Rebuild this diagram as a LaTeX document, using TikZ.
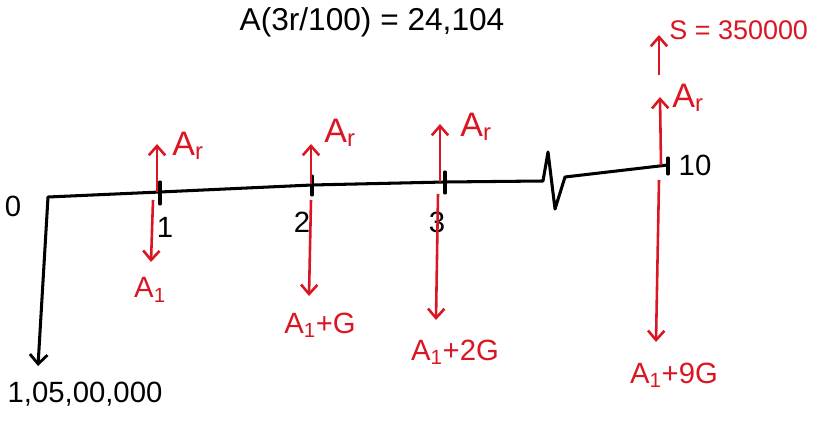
\documentclass[tikz,border=0pt]{standalone}
\usepackage{fontspec}
\setmainfont{Liberation Sans}
\usetikzlibrary{arrows.meta}
\definecolor{hred}{RGB}{218,22,34}
\tikzset{
  ax/.style={line width=2.6pt, black, line cap=round, line join=round},
  rup/.style={line width=2.2pt, hred, -{Straight Barb[length=8pt,width=14pt,line width=2.2pt]}},
  bk/.style={line width=2.6pt, black, -{Straight Barb[length=8pt,width=15pt,line width=2.4pt]}},
  rl/.style={text=hred, font=\fontsize{25}{29}\selectfont, inner sep=1pt},
  arl/.style={text=hred, font=\fontsize{29}{33}\selectfont, inner sep=1pt},
  bl/.style={text=black, font=\fontsize{25}{29}\selectfont, inner sep=1pt}
}
\begin{document}
\begin{tikzpicture}[x=0.03cm,y=-0.03cm]
\useasboundingbox (0,0) rectangle (821,432);
% top text
\node[bl, font=\fontsize{27}{31}\selectfont] (top) at (372,22) {A(3r/100) = 24,104};
% timeline coordinates
\coordinate (o) at (48,197);
\coordinate (t1) at (160,192);
\coordinate (t2) at (312,185);
\coordinate (t3) at (445,182);
\coordinate (z0) at (543,181);
\coordinate (z1) at (548,152);
\coordinate (z2) at (555,209);
\coordinate (z3) at (565,177);
\coordinate (t10) at (668,165);
\draw[ax] (o) -- (t1) -- (t2) -- (t3) -- (z0) -- (z1) -- (z2) -- (z3) -- (t10);
% ticks
\draw[ax] (160,182) -- (160,204);
\draw[ax] (312,176) -- (312,195);
\draw[ax] (445,172) -- (445,193);
\draw[ax] (668,158) -- (668,174);
% initial payment
\coordinate (pend) at (38,366);
\draw[bk] (o) -- (pend);
\node[bl] (lab0) at (13,206) {0};
\node[bl] (labP) at (85,394) {1,05,00,000};
% tick labels
\node[bl] (lab1) at (165,227) {1};
\node[bl] (lab2) at (302,222) {2};
\node[bl] (lab3) at (437,222) {3};
\node[bl] (lab10) at (695,165) {10};
% up arrows Ar
\coordinate (u1) at (157,144);
\coordinate (u2) at (311,144);
\coordinate (u3) at (440,124);
\coordinate (u10) at (660,97);
\draw[rup] (157,192) -- (u1);
\draw[rup] (311,184) -- (u2);
\draw[rup] (440,182) -- (u3);
\draw[rup] (661,165) -- (u10);
\node[arl] (ar1) at (188,146) {A\textsubscript{r}};
\node[arl] (ar2) at (340,133) {A\textsubscript{r}};
\node[arl] (ar3) at (476,127) {A\textsubscript{r}};
\node[arl] (ar10) at (688,98) {A\textsubscript{r}};
% S arrow
\coordinate (s0) at (659,75);
\coordinate (s1) at (659,35);
\draw[rup] (s0) -- (s1);
\node[rl, anchor=west, font=\fontsize{23}{27}\selectfont] (S) at (668,30) {S = 350000};
% down arrows
\draw[rup] (153,200) -- (151,262);
\draw[rup] (311,200) -- (309,296);
\draw[rup] (438,194) -- (436,320);
\draw[rup] (659,180) -- (656,342);
\node[rl] (d1) at (150,290) {A\textsubscript{1}};
\node[rl] (d2) at (320,325) {A\textsubscript{1}+G};
\node[rl] (d3) at (455,352) {A\textsubscript{1}+2G};
\node[rl] (d10) at (674,375) {A\textsubscript{1}+9G};
\end{tikzpicture}
\end{document}
